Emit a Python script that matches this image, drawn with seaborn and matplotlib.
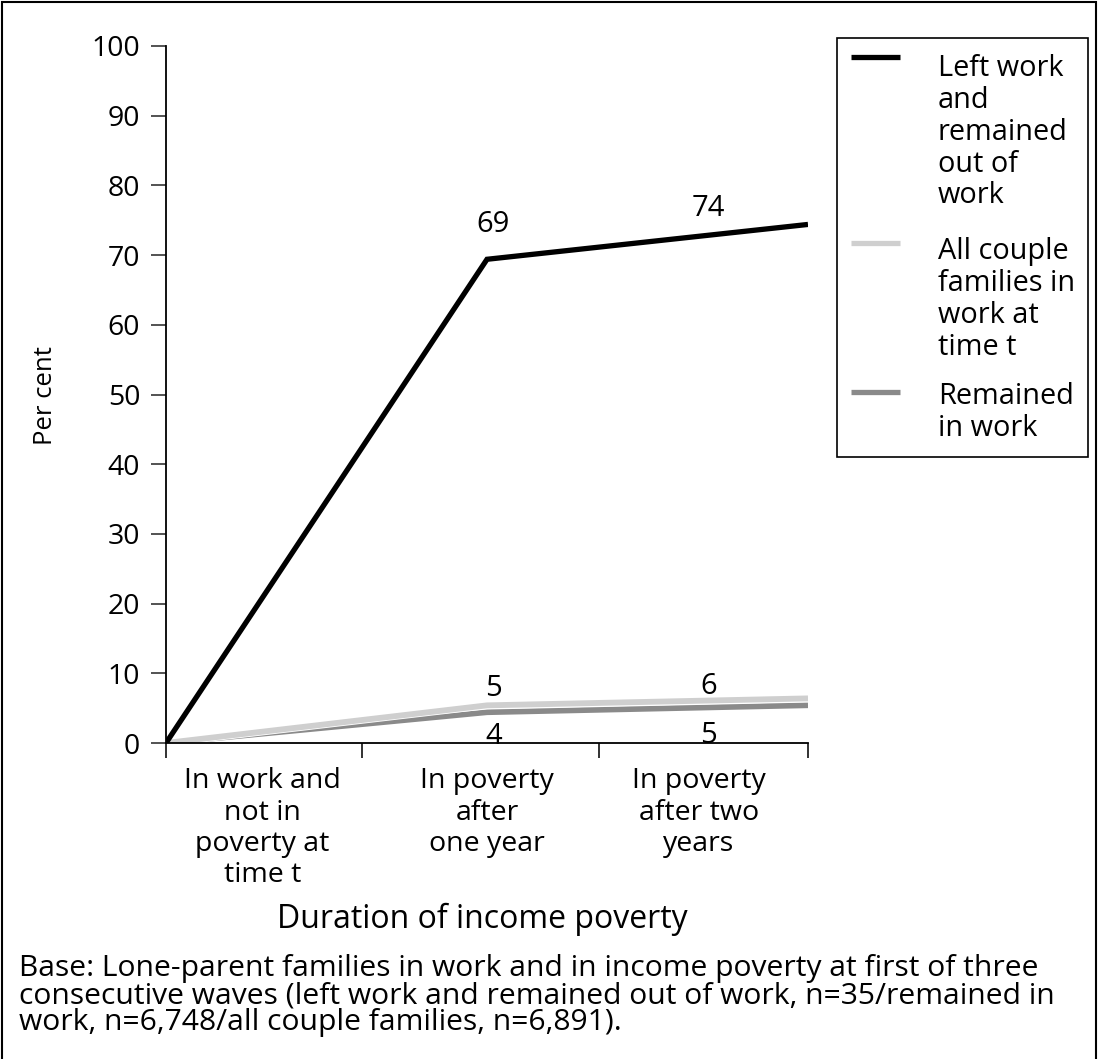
import matplotlib
matplotlib.use("Agg")
import matplotlib.pyplot as plt
import matplotlib.patheffects as pe
import seaborn as sns
import pandas as pd
from matplotlib.lines import Line2D
from matplotlib.patches import Rectangle

# ---- data ----
stage_pos = [0, 1, 2]
left_work = [0, 69.4, 74.4]
all_couple = [0, 5.4, 6.4]
remained = [0, 4.4, 5.4]
series_names = ["Left work\nand\nremained\nout of\nwork",
                "All couple\nfamilies in\nwork at\ntime t",
                "Remained\nin work"]
category_labels = ["In work and\nnot in\npoverty at\ntime t",
                   "In poverty\nafter\none year",
                   "In poverty\nafter two\nyears"]
category_centers = [0.30, 1.0, 1.66]
category_bounds = [0, 0.61, 1.35, 2]
label_texts_top = ["69", "74"]
label_texts_light = ["5", "6"]
label_texts_dark = ["4", "5"]
label_x = [1.02, 1.69]
label_y_black = [74.4, 76.7]
label_y_light = [7.8, 8.1]
label_y_dark = [1.0, 1.1]
yticks = list(range(0, 101, 10))

colors = {"black": "#000000", "light": "#cfcfcf", "dark": "#8a8a8a"}

sns.set_theme(style="white")
plt.rcParams['font.family'] = ['Open Sans', 'DejaVu Sans']
plt.rcParams['text.color'] = 'black'
plt.rcParams['axes.labelcolor'] = 'black'

W, H = 1099, 1059
fig = plt.figure(figsize=(W / 100, H / 100), dpi=100)

def fx(px):
    return px / W

def fy(py):
    return 1 - py / H

ax = fig.add_axes([fx(166), fy(743), fx(808) - fx(166), fy(46) - fy(743)])

df = pd.DataFrame({
    "x": stage_pos * 3,
    "value": remained + all_couple + left_work,
    "series": ["dark"] * 3 + ["light"] * 3 + ["black"] * 3,
})
sns.lineplot(data=df, x="x", y="value", hue="series",
             palette=colors, size="series",
             sizes={"dark": 4.0, "light": 4.2, "black": 3.8},
             legend=False, ax=ax, estimator=None)
for ln in ax.get_lines():
    ln.set_solid_joinstyle("miter")
    ln.set_solid_capstyle("butt")
lines = ax.get_lines()
if len(lines) >= 2:
    lines[1].set_path_effects([pe.Stroke(linewidth=5.4, foreground="white"), pe.Normal()])

ax.set_xlim(0, 2)
ax.set_ylim(0, 100)
ax.set_xlabel("")
ax.set_ylabel("")
for s in ["top", "right"]:
    ax.spines[s].set_visible(False)
for s in ["left", "bottom"]:
    ax.spines[s].set_color("black")
    ax.spines[s].set_linewidth(1.3)

ax.set_yticks(yticks)
ax.set_yticklabels([str(t) for t in yticks], fontsize=20.5)
ax.tick_params(axis="y", direction="out", length=11, width=1.3, color="#444444",
               pad=7.5, left=True, labelcolor="black")

ax.set_xticks(category_bounds)
ax.set_xticklabels([])
ax.set_xticks(category_centers, minor=True)
ax.set_xticklabels(category_labels, minor=True, fontsize=20.5, linespacing=1.16)
ax.tick_params(axis="x", which="major", direction="out", length=11, width=1.3,
               color="#222222", bottom=True)
ax.tick_params(axis="x", which="minor", length=0, pad=17.5, bottom=True,
               labelcolor="black")

for xv, yv, t in zip(label_x, label_y_black, label_texts_top):
    ax.text(xv, yv, t, ha="center", va="center", fontsize=21)
for xv, yv, t in zip(label_x, label_y_light, label_texts_light):
    ax.text(xv, yv, t, ha="center", va="center", fontsize=21)
for xv, yv, t in zip(label_x, label_y_dark, label_texts_dark):
    ax.text(xv, yv, t, ha="center", va="center", fontsize=21)

# axis titles
fig.text(fx(45), fy(396), "Per cent", rotation=90, ha="center", va="center", fontsize=18.5)
fig.text(fx(482), fy(919), "Duration of income poverty", ha="center", va="center", fontsize=23)

# footnote
fig.text(fx(19), fy(954),
         "Base: Lone-parent families in work and in income poverty at first of three\n"
         "consecutive waves (left work and remained out of work, n=35/remained in\n"
         "work, n=6,748/all couple families, n=6,891).",
         ha="left", va="top", fontsize=21.6, linespacing=0.92)

# legend (manual)
fig.patches.append(Rectangle((fx(837), fy(457)), fx(1088) - fx(837), fy(38) - fy(457),
                             transform=fig.transFigure, fill=False, edgecolor="black",
                             linewidth=1.2))
leg_handle_y = [57, 243, 392]
leg_text_y = [54, 237, 382]
leg_cols = [colors["black"], colors["light"], colors["dark"]]
for hy, ty, c, name in zip(leg_handle_y, leg_text_y, leg_cols, series_names):
    fig.lines.append(Line2D([fx(851), fx(900)], [fy(hy), fy(hy)], transform=fig.transFigure,
                            color=c, linewidth=3.8, solid_capstyle="butt"))
    fig.text(fx(938), fy(ty), name, ha="left", va="top", fontsize=20.8, linespacing=1.13)

# outer frame
fig.patches.append(Rectangle((fx(1.5), -0.01), fx(1096) - fx(1.5), fy(1.5) + 0.01,
                             transform=fig.transFigure, fill=False, edgecolor="black",
                             linewidth=1.5))

fig.savefig("out.png", dpi=100)
